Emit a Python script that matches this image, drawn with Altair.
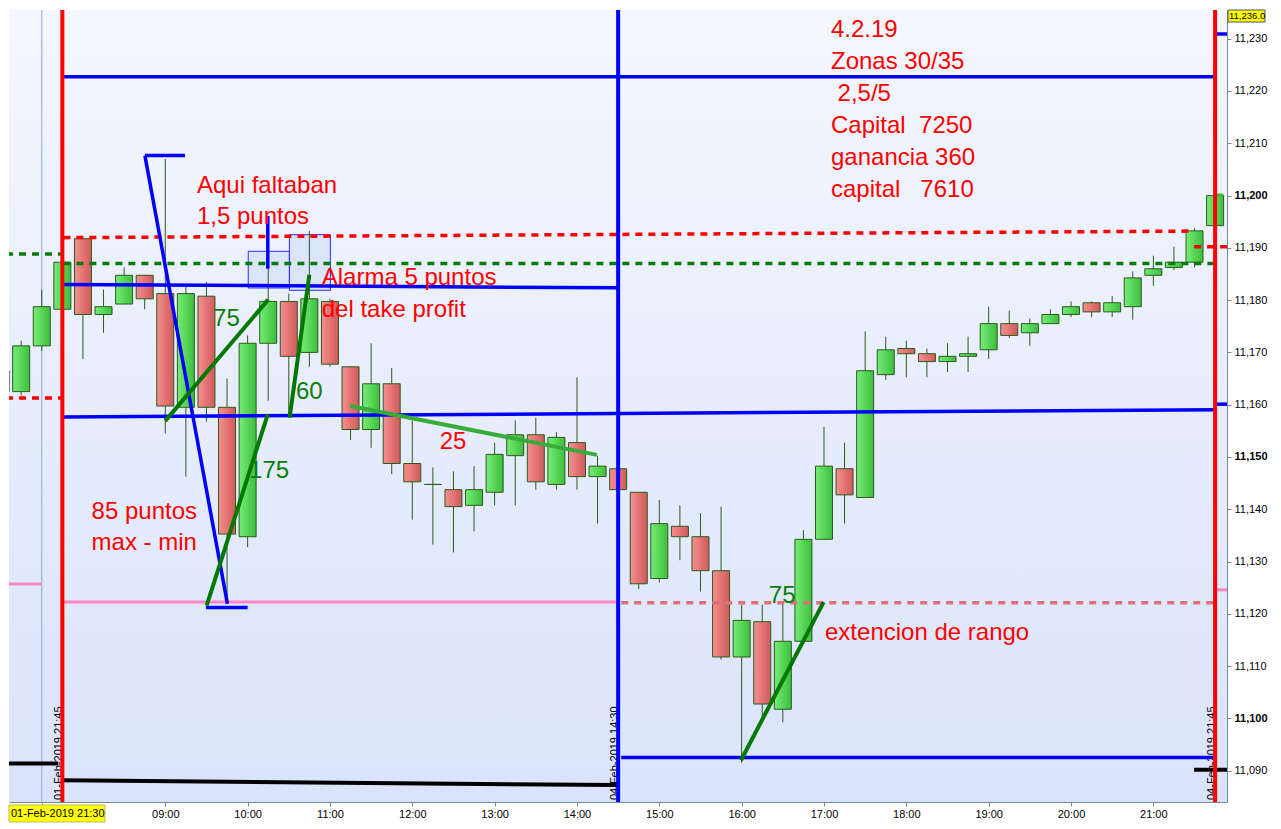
import altair as alt
import pandas as pd

# ---------------- data ----------------
# 15-minute bars: index 0-3 = 01-Feb-2019 21:00..21:45, index 4-59 = 04-Feb-2019 08:00..21:45
opens = [11166.5, 11162.5, 11171.25, 11178.25, 11191.75, 11177.25, 11179.25, 11184.75, 11181.25, 11159.5,
         11180.75, 11159.5, 11134.75, 11171.75, 11179.75, 11170.0, 11179.75, 11167.25, 11155.25, 11164.0,
         11148.75, 11144.75, 11143.75, 11140.75, 11143.25, 11150.25, 11154.25, 11144.75, 11152.75, 11146.25,
         11147.75, 11143.25, 11126.75, 11136.75, 11134.75, 11128.25, 11111.75, 11118.5, 11101.75, 11114.75,
         11134.25, 11147.75, 11142.25, 11165.75, 11170.75, 11169.75, 11168.25, 11169.25, 11170.5, 11175.5,
         11173.75, 11175.5, 11177.25, 11179.5, 11177.75, 11178.75, 11184.75, 11186.25, 11187.25, 11194.25]
highs = [11169.25, 11172.25, 11182.0, 11188.0, 11192.0, 11182.0, 11186.25, 11184.75, 11207.0, 11182.5,
         11183.5, 11165.0, 11173.25, 11186.0, 11181.25, 11193.25, 11180.25, 11167.25, 11171.75, 11167.0,
         11157.0, 11148.0, 11147.25, 11148.25, 11152.75, 11157.0, 11157.5, 11154.75, 11165.25, 11150.25,
         11147.75, 11143.25, 11141.75, 11140.75, 11139.25, 11140.5, 11121.75, 11121.75, 11122.25, 11136.0,
         11155.75, 11152.75, 11174.0, 11173.0, 11172.25, 11170.75, 11171.75, 11173.0, 11178.75, 11178.0,
         11176.5, 11178.25, 11179.75, 11179.75, 11180.75, 11185.5, 11188.5, 11190.25, 11193.75, 11200.0]
lows = [11159.25, 11161.75, 11170.25, 11178.25, 11168.75, 11173.75, 11179.25, 11178.25, 11154.5, 11146.25,
        11156.75, 11122.0, 11132.75, 11160.75, 11157.5, 11167.25, 11167.25, 11153.25, 11151.75, 11146.75,
        11138.0, 11133.25, 11131.75, 11135.75, 11140.75, 11140.75, 11143.75, 11143.75, 11143.75, 11137.25,
        11143.75, 11124.75, 11126.0, 11130.25, 11124.25, 11111.25, 11091.5, 11100.0, 11099.25, 11114.75,
        11134.25, 11137.25, 11142.25, 11164.75, 11165.25, 11165.25, 11166.25, 11166.25, 11168.75, 11172.75,
        11171.25, 11175.5, 11176.75, 11176.75, 11176.75, 11176.25, 11182.75, 11185.75, 11186.25, 11194.25]
closes = [11162.5, 11171.25, 11178.75, 11187.25, 11177.25, 11178.75, 11184.75, 11180.25, 11159.75, 11181.25,
          11159.5, 11135.25, 11171.75, 11179.75, 11169.25, 11180.25, 11167.75, 11155.25, 11164.0, 11148.75,
          11145.25, 11144.75, 11140.5, 11143.75, 11150.5, 11154.25, 11145.25, 11153.75, 11146.25, 11148.25,
          11143.75, 11125.75, 11137.25, 11134.75, 11128.25, 11111.75, 11118.75, 11102.75, 11114.75, 11134.25,
          11148.25, 11142.75, 11166.5, 11170.5, 11169.75, 11168.25, 11169.25, 11169.75, 11175.5, 11173.25,
          11175.5, 11177.25, 11178.75, 11177.75, 11179.5, 11184.25, 11186.0, 11187.25, 11193.25, 11200.0]

tick_index = [8, 12, 16, 20, 24, 28, 32, 36, 40, 44, 48, 52, 56]
tick_labels = ["09:00", "10:00", "11:00", "12:00", "13:00", "14:00", "15:00",
               "16:00", "17:00", "18:00", "19:00", "20:00", "21:00"]
cursor_index = [2]
price_ticks = [11090, 11100, 11110, 11120, 11130, 11140, 11150, 11160,
               11170, 11180, 11190, 11200, 11210, 11220, 11230]

# full-height vertical markers
red_vlines = [3, 59]
blue_vlines = [30]

# rotated date labels at the vertical markers
date_idx = [3, 30, 59]
date_txt = ["01-Feb-2019 21:45", "04-Feb-2019 14:30", "04-Feb-2019 21:45"]

# thick blue segments (bar index, price)
blue_x1 = [3, 3, 3, 30.15, 7.01, 7.01, 9.98, 12.98, 59.0, 59.0]
blue_y1 = [11222.7, 11183.0, 11157.65, 11092.5, 11207.65, 11207.65, 11121.2, 11196.1, 11230.9, 11160.1]
blue_x2 = [59, 30, 59, 59, 8.96, 11.02, 12.0, 12.98, 59.6, 59.6]
blue_y2 = [11222.7, 11182.35, 11159.05, 11092.5, 11207.65, 11121.9, 11121.2, 11186.0, 11230.9, 11160.1]

# dark green trend segments
green_x1 = [8.0, 10.01, 14.04, 35.97]
green_y1 = [11156.9, 11121.55, 11157.5, 11092.0]
green_x2 = [13.0, 12.98, 15.0, 39.98]
green_y2 = [11180.1, 11158.15, 11184.85, 11122.25]

# light green trend segment ("25")
lgreen_x1 = [16.99]
lgreen_y1 = [11159.75]
lgreen_x2 = [28.97]
lgreen_y2 = [11150.4]

# red dashed levels
rdash_x1 = [-1, 3.05, 57.98]
rdash_y1 = [11161.3, 11191.95, 11190.2]
rdash_x2 = [2.95, 57.8, 59.6]
rdash_y2 = [11161.3, 11193.2, 11190.2]

# green dashed levels
gdash_x1 = [-1, 3.05]
gdash_y1 = [11188.8, 11187.0]
gdash_x2 = [2.95, 59.05]
gdash_y2 = [11188.8, 11187.0]

# pink solid levels
pink_x1 = [-1, 3.05, 59.05]
pink_y1 = [11125.7, 11122.25, 11124.6]
pink_x2 = [1.99, 30.0, 59.6]
pink_y2 = [11125.7, 11122.25, 11124.6]

# pink dashed level
pdash_x1 = [30.15]
pdash_y1 = [11122.1]
pdash_x2 = [59.0]
pdash_y2 = [11122.1]

# black levels
black_x1 = [-1, 3.05, 57.98]
black_y1 = [11091.35, 11088.15, 11090.2]
black_x2 = [2.8, 29.94, 59.6]
black_y2 = [11091.35, 11087.25, 11090.2]

# light green last-price marker
lastp_x1 = [59.0]
lastp_y1 = [11200.1]
lastp_x2 = [59.4]
lastp_y2 = [11200.1]

# light blue boxes
box_x1 = [12.03, 14.03]
box_x2 = [14.03, 16.02]
box_y1 = [11189.34, 11192.51]
box_y2 = [11182.32, 11181.88]

# red annotation texts (left x as bar index, baseline as price)
red_txt = ["Aqui faltaban", "1,5 puntos", "Alarma 5 puntos", "del take profit", "85 puntos",
           "max - min", "25", "extencion de rango", "4.2.19", "Zonas 30/35", "2,5/5",
           "Capital\u00a0\u00a07250", "ganancia 360", "capital\u00a0\u00a0\u00a07610"]
red_tx = [9.54, 9.54, 15.6, 15.6, 4.42, 4.42, 21.33, 40.05, 40.34, 40.34, 40.66, 40.34, 40.34, 40.34]
red_ty = [11200.5, 11194.6, 11182.85, 11176.8, 11138.2, 11132.15, 11151.6, 11114.95,
          11230.3, 11224.2, 11218.1, 11212.0, 11205.9, 11199.8]

# green annotation texts
green_txt = ["75", "175", "60", "75"]
green_tx = [10.32, 12.07, 14.35, 37.32]
green_ty = [11175.05, 11146.05, 11161.15, 11122.07]

# ---------------- chart ----------------
W, H = 1218, 792
FONT = "Liberation Sans"
xs = alt.Scale(domain=[0.408, 59.578], nice=False, zero=False, padding=0)
ys = alt.Scale(domain=[11084.01, 11235.49], nice=False, zero=False, padding=0)
OUTLINE = "#2c5a1c"
AXC = "#7b8794"

label_expr = "indexof({0}, datum.value) >= 0 ? {1}[indexof({0}, datum.value)] : ''".format(
    str(tick_index), str(tick_labels))

x_axis = alt.Axis(values=tick_index + cursor_index, labelExpr=label_expr, title=None, grid=False,
                  tickSize=4, tickColor=AXC, domainColor=AXC, labelFont=FONT,
                  labelFontSize=11, labelColor="black", labelPadding=2, labelOverlap=False,
                  labelFlush=False)
y_axis = alt.Axis(orient="right", values=price_ticks, format=",d", title=None, grid=False,
                  tickSize=4, tickColor=AXC, domainColor=AXC, labelFont=FONT,
                  labelFontSize=11, labelColor="black", labelPadding=3,
                  labelFontWeight=alt.condition("datum.value % 50 === 0", alt.value("bold"),
                                                alt.value("normal")))


def X(f):
    return alt.X(f, scale=xs, axis=x_axis)


def Y(f):
    return alt.Y(f, scale=ys, axis=y_axis)


candles = pd.DataFrame({"i": list(range(len(opens))), "open": opens, "high": highs,
                        "low": lows, "close": closes})
up = candles[candles["close"] >= candles["open"]]
down = candles[candles["close"] < candles["open"]]
one = pd.DataFrame({"k": [0]})


def grad_h(c1, c2):
    return alt.LinearGradient(gradient="linear", x1=0, x2=1, y1=0, y2=0,
                              stops=[alt.GradientStop(color=c1, offset=0),
                                     alt.GradientStop(color=c2, offset=1)])


bg = alt.Chart(one).mark_rect(
    fill=alt.LinearGradient(gradient="linear", x1=0, x2=0, y1=0, y2=1,
                            stops=[alt.GradientStop(color="#f5f7fe", offset=0),
                                   alt.GradientStop(color="#d9e3fb", offset=1)])
).encode(x=alt.value(0), x2=alt.value(W), y=alt.value(0), y2=alt.value(H))


def seg(x1, y1, x2, y2, color, width, dash=None):
    df = pd.DataFrame({"x1": x1, "y1": y1, "x2": x2, "y2": y2})
    kw = dict(color=color, strokeWidth=width, clip=True)
    if dash:
        kw["strokeDash"] = dash
    return alt.Chart(df).mark_rule(**kw).encode(x=X("x1:Q"), y=Y("y1:Q"), x2="x2:Q", y2="y2:Q")


def vlines(vals, color, width):
    df = pd.DataFrame({"v": vals})
    return alt.Chart(df).mark_rule(color=color, strokeWidth=width).encode(x=X("v:Q"))


boxes = alt.Chart(pd.DataFrame({"x1": box_x1, "x2": box_x2, "y1": box_y1, "y2": box_y2})).mark_rect(
    fill="#dae4fa", stroke="#2a2aff", strokeWidth=1
).encode(x=X("x1:Q"), x2="x2:Q", y=Y("y1:Q"), y2="y2:Q")

wicks = alt.Chart(candles).mark_rule(color=OUTLINE, strokeWidth=1, clip=True).encode(
    x=X("i:Q"), y=Y("low:Q"), y2="high:Q")

up_bars = alt.Chart(up).mark_bar(size=17, fill=grad_h("#76ec76", "#3cbf3c"), stroke=OUTLINE,
                                 strokeWidth=1, clip=True).encode(
    x=X("i:Q"), y=Y("open:Q"), y2="close:Q")
down_bars = alt.Chart(down).mark_bar(size=17, fill=grad_h("#f68f8f", "#d05a5a"), stroke=OUTLINE,
                                     strokeWidth=1, clip=True).encode(
    x=X("i:Q"), y=Y("open:Q"), y2="close:Q")

date_labels = alt.Chart(pd.DataFrame({"x": date_idx, "t": date_txt})).mark_text(
    angle=270, align="left", baseline="alphabetic", font=FONT, fontSize=11, color="black"
).encode(x=X("x:Q"), y=alt.value(H - 2), text="t:N")

red_texts = alt.Chart(pd.DataFrame({"x": red_tx, "y": red_ty, "t": red_txt})).mark_text(
    align="left", baseline="alphabetic", font=FONT, fontSize=24, color="#ff0000"
).encode(x=X("x:Q"), y=Y("y:Q"), text="t:N")

green_texts = alt.Chart(pd.DataFrame({"x": green_tx, "y": green_ty, "t": green_txt})).mark_text(
    align="left", baseline="alphabetic", font=FONT, fontSize=24, color="#0b7d0b"
).encode(x=X("x:Q"), y=Y("y:Q"), text="t:N")

price_box = alt.Chart(one).mark_rect(fill="#ffff00", stroke="#555555", strokeWidth=1).encode(
    x=alt.value(1219), x2=alt.value(1256), y=alt.value(0), y2=alt.value(12))
price_lbl = alt.Chart(pd.DataFrame({"t": ["11,236.0"]})).mark_text(
    align="left", baseline="middle", font=FONT, fontSize=9.5, color="black"
).encode(x=alt.value(1220), y=alt.value(6), text="t:N")

date_box = alt.Chart(one).mark_rect(fill="#ffff00", stroke="#bbbb66", strokeWidth=1).encode(
    x=alt.value(0), x2=alt.value(96), y=alt.value(H + 3), y2=alt.value(H + 20))
date_lbl = alt.Chart(pd.DataFrame({"t": ["01-Feb-2019 21:30"]})).mark_text(
    align="left", baseline="middle", font=FONT, fontSize=11, color="black"
).encode(x=alt.value(2), y=alt.value(H + 12), text="t:N")

chart = alt.layer(
    bg,
    boxes,
    vlines(cursor_index, "#8ca6e8", 1),
    wicks, up_bars, down_bars,
    date_labels,
    seg(pink_x1, pink_y1, pink_x2, pink_y2, "#ff86c6", 3),
    seg(pdash_x1, pdash_y1, pdash_x2, pdash_y2, "#df6f7a", 3.5, [7, 6]),
    seg(black_x1, black_y1, black_x2, black_y2, "#000000", 4),
    seg(gdash_x1, gdash_y1, gdash_x2, gdash_y2, "#0a7a0a", 3.5, [7, 6]),
    seg(rdash_x1, rdash_y1, rdash_x2, rdash_y2, "#ff0000", 3.5, [7, 6]),
    seg(blue_x1, blue_y1, blue_x2, blue_y2, "#0000ff", 3.5),
    seg(lgreen_x1, lgreen_y1, lgreen_x2, lgreen_y2, "#38ac38", 4),
    seg(green_x1, green_y1, green_x2, green_y2, "#007800", 4),
    seg(lastp_x1, lastp_y1, lastp_x2, lastp_y2, "#33bb33", 3),
    vlines(blue_vlines, "#0000ff", 4),
    vlines(red_vlines, "#ff0000", 4),
    red_texts, green_texts,
    price_box, price_lbl, date_box, date_lbl,
).properties(width=W, height=H, padding=0, background="white").configure_view(strokeWidth=0)

chart.save("out.html", embed_options={"renderer": "svg", "actions": False})
